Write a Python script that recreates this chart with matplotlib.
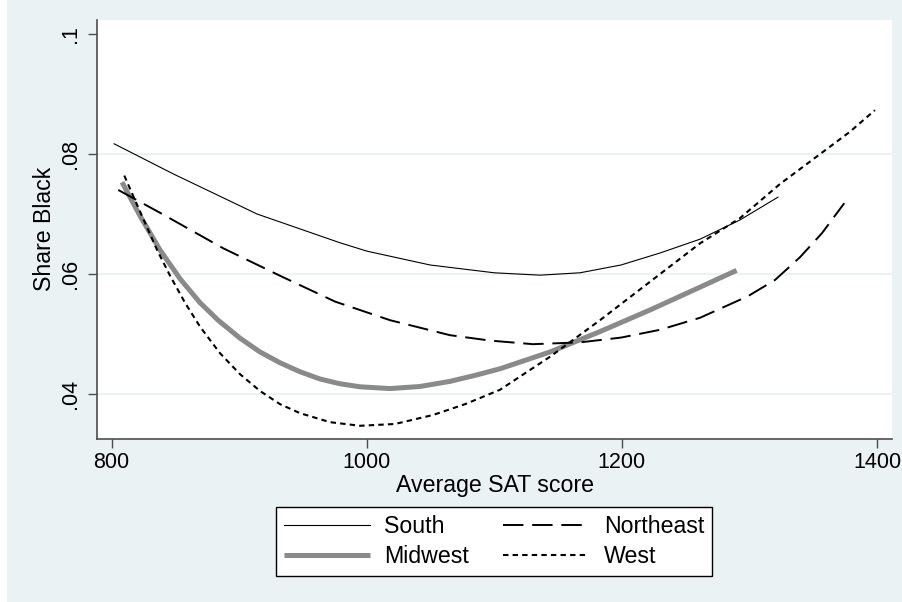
import numpy as np
import matplotlib
matplotlib.use("Agg")
import matplotlib.pyplot as plt
from matplotlib.patches import Rectangle

plt.rcParams['font.family'] = ['Liberation Sans', 'DejaVu Sans']

# values (SAT score, share black)
south_x = [802.0, 848.2, 914.0, 979.1, 1000.3, 1049.7, 1099.9, 1135.9, 1167.3, 1199.4, 1230.0, 1261.3, 1292.6, 1322.4]
south_y = [0.0817, 0.0767, 0.0700, 0.0652, 0.0638, 0.0615, 0.0602, 0.0598, 0.0602, 0.0615, 0.0635, 0.0658, 0.0690, 0.0728]

northeast_x = [805.3, 838.0, 887.4, 932.1, 975.2, 1018.3, 1065.3, 1096.7, 1130.4, 1167.2, 1199.4,
               1230.0, 1261.3, 1298.9, 1320.1, 1339.7, 1356.9, 1374.4]
northeast_y = [0.0740, 0.0702, 0.0643, 0.0597, 0.0554, 0.0523, 0.0498, 0.0489, 0.0483, 0.0486, 0.0494,
               0.0507, 0.0527, 0.0563, 0.0590, 0.0628, 0.0668, 0.0718]

midwest_x = [808.2, 822.3, 838.0, 853.7, 869.4, 883.5, 900.7, 916.4, 932.1, 947.8, 963.4, 979.1, 994.8,
             1018.3, 1041.8, 1065.3, 1084.9, 1104.5, 1124.1, 1143.7, 1182.9, 1222.1, 1261.3, 1290.0]
midwest_y = [0.0753, 0.0697, 0.0640, 0.0592, 0.0552, 0.0523, 0.0493, 0.0470, 0.0452, 0.0437, 0.0425,
             0.0417, 0.0412, 0.0409, 0.04125, 0.0421, 0.0431, 0.0442, 0.0456, 0.0470, 0.0504, 0.0540,
             0.0578, 0.0606]

west_x = [810.0, 818.4, 826.3, 835.7, 845.9, 857.6, 869.4, 885.0, 900.7, 916.4, 932.1, 947.8, 971.3,
          994.8, 1022.2, 1052.0, 1077.1, 1104.5, 1143.7, 1182.9, 1222.1, 1261.3, 1292.6, 1324.0,
          1353.0, 1378.8, 1398.4]
west_y = [0.0764, 0.0723, 0.0685, 0.0640, 0.0597, 0.0552, 0.0512, 0.0468, 0.0433, 0.0405, 0.0383,
          0.0368, 0.0353, 0.0347, 0.0350, 0.0365, 0.0383, 0.0407, 0.0462, 0.0523, 0.0587, 0.0651,
          0.0693, 0.0750, 0.0796, 0.0837, 0.0873]

x_ticks = [800, 1000, 1200, 1400]
y_ticks = [0.04, 0.06, 0.08, 0.1]
y_ticklabels = ['.04', '.06', '.08', '.1']

bg = '#EAF2F3'
W, H = 902, 602
fig = plt.figure(figsize=(W / 100, H / 100), dpi=100, facecolor='white')
fig.patches.append(Rectangle((7 / W, 0), 1 - 7 / W, 1, transform=fig.transFigure,
                             facecolor=bg, edgecolor='none', zorder=-10))

ax = fig.add_axes([97 / W, 1 - 438.5 / H, (892 - 97) / W, (438.5 - 20) / H])
ax.set_facecolor('white')

for yv in y_ticks[:-1]:
    ax.axhline(yv, color=bg, lw=1.5, zorder=1)

ax.plot(south_x, south_y, color='black', lw=0.8, label='South', zorder=3)
ax.plot(midwest_x, midwest_y, color='#8a8a8a', lw=3.6, solid_capstyle='butt', label='Midwest', zorder=2)
ax.plot(northeast_x, northeast_y, color='black', lw=1.4, dashes=(10.5, 4.5), label='Northeast', zorder=3)
ax.plot(west_x, west_y, color='black', lw=1.5, dashes=(2.6, 2.0), label='West', zorder=3)

ax.set_xlim(788.6, 1411.8)
ax.set_ylim(0.03258, 0.10233)
ax.set_xticks(x_ticks)
ax.set_yticks(y_ticks)
ax.set_yticklabels(y_ticklabels, rotation=90, va='center')

for s in ['top', 'right']:
    ax.spines[s].set_visible(False)
for s in ['left', 'bottom']:
    ax.spines[s].set_color('#4d4d4d')
    ax.spines[s].set_linewidth(1.2)
ax.tick_params(axis='both', direction='out', length=6.5, width=1.0, color='#4d4d4d',
               labelsize=15.5, labelcolor='black')
ax.tick_params(axis='x', pad=3)
ax.tick_params(axis='y', pad=5)

ax.set_xlabel('Average SAT score', fontsize=16.7, labelpad=1)
ax.set_ylabel('Share Black', fontsize=16.7, labelpad=3)

h, l = ax.get_legend_handles_labels()
leg = fig.legend(h, l, ncol=2,
                 loc='upper center', bbox_to_anchor=(494 / W, 1 - 507 / H), borderaxespad=0,
                 fontsize=16.7, frameon=True, fancybox=False, framealpha=1,
                 edgecolor='black', handlelength=3.7, handletextpad=0.63,
                 columnspacing=1.47, labelspacing=0.29, borderpad=0.35)
leg.get_frame().set_linewidth(1.0)

fig.savefig('out.png', dpi=100, facecolor=fig.get_facecolor())
